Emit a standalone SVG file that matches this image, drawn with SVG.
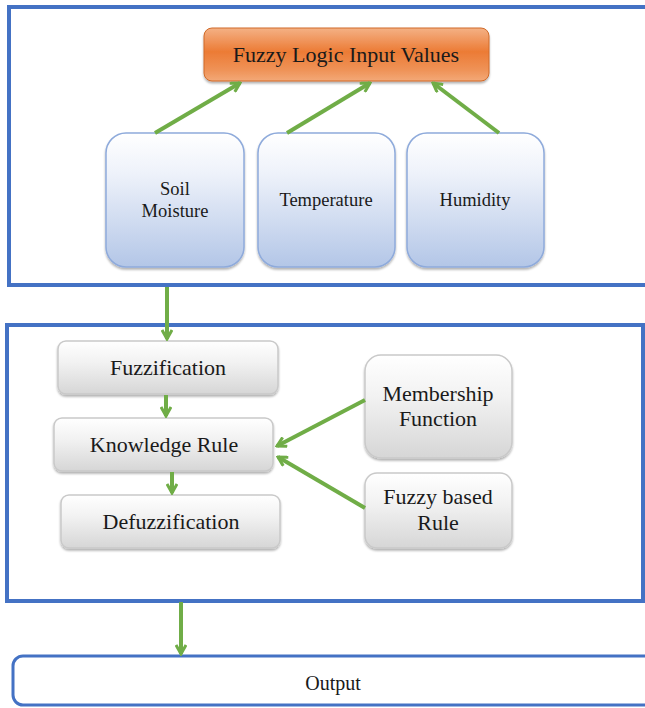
<svg xmlns="http://www.w3.org/2000/svg" width="645" height="708" viewBox="0 0 645 708">
<defs>
<linearGradient id="gOrange" x1="0" y1="0" x2="0" y2="1">
<stop offset="0" stop-color="#f4b185"/>
<stop offset="0.45" stop-color="#ec7b35"/>
<stop offset="0.8" stop-color="#ef9358"/>
<stop offset="1" stop-color="#f3a978"/>
</linearGradient>
<linearGradient id="gBlue" x1="0" y1="0" x2="0" y2="1">
<stop offset="0" stop-color="#ffffff"/>
<stop offset="0.3" stop-color="#eef2fa"/>
<stop offset="1" stop-color="#b3c6e7"/>
</linearGradient>
<linearGradient id="gGray" x1="0" y1="0" x2="0" y2="1">
<stop offset="0" stop-color="#ffffff"/>
<stop offset="0.4" stop-color="#f2f2f2"/>
<stop offset="1" stop-color="#d6d6d6"/>
</linearGradient>
<filter id="sh" x="-10%" y="-10%" width="120%" height="130%">
<feDropShadow dx="0" dy="2" stdDeviation="1.2" flood-color="#000" flood-opacity="0.3"/>
</filter>
<marker id="ah" viewBox="0 0 12 12" refX="10" refY="6" markerWidth="12" markerHeight="12" markerUnits="userSpaceOnUse" orient="auto">
<polyline points="1,1 10,6 1,11" fill="none" stroke="#70ad47" stroke-width="3" stroke-linejoin="miter"/>
</marker>
</defs>
<style>
.frame{fill:none;stroke:#4472c4;stroke-width:4}
.conn{stroke:#70ad47;stroke-width:4;fill:none;marker-end:url(#ah)}
.txt{fill:#1a1a1a;text-anchor:middle}
.blue{fill:url(#gBlue);stroke:#8eaadb;stroke-width:1.5}
.gray{fill:url(#gGray);stroke:#c9c9c9;stroke-width:1.5}
</style>
<rect width="645" height="708" fill="#ffffff"/>

<g id="frame-inputs"><rect class="frame" x="9" y="7" width="650" height="278"/></g>
<g id="frame-process"><rect class="frame" x="7" y="325" width="636" height="276"/></g>

<g font-family="Liberation Serif, Times New Roman, serif">
<g id="fuzzy-input">
<rect x="204" y="28" width="285" height="53" rx="8" fill="url(#gOrange)" stroke="#d06a28" stroke-width="1" filter="url(#sh)"/>
<text class="txt" x="346" y="62" font-size="22">Fuzzy Logic Input Values</text>
</g>

<g id="soil-moisture">
<rect class="blue" x="106" y="133" width="138" height="134" rx="20" filter="url(#sh)"/>
<text class="txt" x="175" y="195" font-size="18.5">Soil</text>
<text class="txt" x="175" y="217" font-size="18.5">Moisture</text>
</g>
<g id="temperature">
<rect class="blue" x="258" y="133" width="137" height="134" rx="20" filter="url(#sh)"/>
<text class="txt" x="326" y="206" font-size="18.5">Temperature</text>
</g>
<g id="humidity">
<rect class="blue" x="407" y="133" width="137" height="134" rx="20" filter="url(#sh)"/>
<text class="txt" x="475" y="206" font-size="18.5">Humidity</text>
</g>

<g id="fuzzification">
<rect class="gray" x="58" y="341" width="220" height="53" rx="8" filter="url(#sh)"/>
<text class="txt" x="168" y="375" font-size="22">Fuzzification</text>
</g>
<g id="knowledge-rule">
<rect class="gray" x="54" y="418" width="219" height="53" rx="8" filter="url(#sh)"/>
<text class="txt" x="164" y="452" font-size="22">Knowledge Rule</text>
</g>
<g id="defuzzification">
<rect class="gray" x="61" y="495" width="219" height="53" rx="8" filter="url(#sh)"/>
<text class="txt" x="171" y="529" font-size="22">Defuzzification</text>
</g>
<g id="membership-function">
<rect class="gray" x="365" y="355" width="147" height="103" rx="16" filter="url(#sh)"/>
<text class="txt" x="438" y="401" font-size="22">Membership</text>
<text class="txt" x="438" y="426" font-size="22">Function</text>
</g>
<g id="fuzzy-based-rule">
<rect class="gray" x="365" y="473" width="147" height="75" rx="12" filter="url(#sh)"/>
<text class="txt" x="438" y="504" font-size="22">Fuzzy based</text>
<text class="txt" x="438" y="530" font-size="22">Rule</text>
</g>

<g id="output">
<rect x="13" y="656" width="650" height="49" rx="10" fill="#ffffff" stroke="#4472c4" stroke-width="3"/>
<text class="txt" x="333" y="690" font-size="20">Output</text>
</g>
</g>

<g id="connectors">
<line class="conn" x1="155" y1="133" x2="240" y2="83"/>
<line class="conn" x1="287" y1="133" x2="370" y2="83"/>
<line class="conn" x1="499" y1="133" x2="433" y2="83"/>
<line class="conn" x1="167" y1="287" x2="167" y2="339"/>
<line class="conn" x1="166" y1="395" x2="166" y2="416"/>
<line class="conn" x1="172" y1="472" x2="172" y2="493"/>
<line class="conn" x1="365" y1="400" x2="277" y2="446"/>
<line class="conn" x1="365" y1="508" x2="278" y2="457"/>
<line class="conn" x1="181" y1="602" x2="181" y2="654"/>
</g>
</svg>
